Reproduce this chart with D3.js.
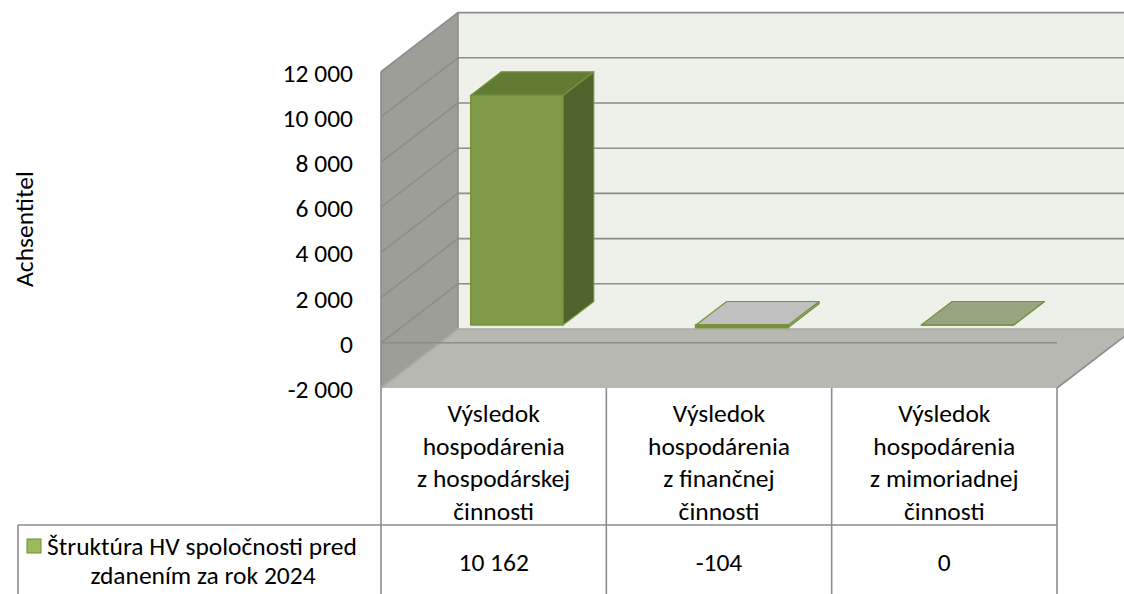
<!DOCTYPE html>
<html>
<head>
<meta charset="utf-8">
<script src="https://cdn.jsdelivr.net/npm/d3@7"></script>
<style>
  body { margin: 0; background: #fff; }
  svg { display: block; }
  text { font-family: Carlito, "Open Sans", sans-serif; fill: #000; }
</style>
</head>
<body>
<svg id="chart"></svg>
<script>
// data
var categories = [
    "Výsledok\nhospodárenia\nz hospodárskej\nčinnosti",
    "Výsledok\nhospodárenia\nz finančnej\nčinnosti",
    "Výsledok\nhospodárenia\nz mimoriadnej\nčinnosti"
];
var values = [10162, -104, 0];
var valueLabels = ["10 162", "-104", "0"];
var yTicks = [-2000, 0, 2000, 4000, 6000, 8000, 10000, 12000];
var seriesName = ["Štruktúra HV spoločnosti pred", "zdanením za rok 2024"];
var axisTitle = "Achsentitel";

var width = 1124, height = 594;
var fs = 25.5;

// 3d box: front plane and depth offset
var depthX = 77, depthY = -59;
var barDepth0 = 0.3, barDepth1 = 0.7;

var svg = d3.select("#chart").attr("width", width).attr("height", height);

var x = d3.scaleBand().domain(categories).range([381, 1057]);
var y = d3.scaleLinear().domain([-2000, 12000]).range([388, 71.6]);

var fmt = function(v) { return d3.format(",")(v).replace(/,/g, " ").replace("\u2212", "-"); };

function P(xf, v, d) {
    return [xf + d * depthX, y(v) + d * depthY];
}
var line = d3.line();
function poly(g, pts, fill, stroke, sw) {
    return g.append("path")
        .attr("d", line(pts) + "Z")
        .attr("fill", fill)
        .attr("stroke", stroke || "none")
        .attr("stroke-width", sw || 0)
        .attr("stroke-linejoin", "round");
}

var x0 = x.range()[0], x1 = x.range()[1];
var vMin = y.domain()[0], vMax = y.domain()[1];
var gridCol = "#8c8c8c";

var walls = svg.append("g");
// back wall
poly(walls, [P(x0, vMax, 1), P(x1, vMax, 1), P(x1, vMin, 1), P(x0, vMin, 1)], "#eef1e9");
// left wall
poly(walls, [P(x0, vMax, 0), P(x0, vMax, 1), P(x0, vMin, 1), P(x0, vMin, 0)], "#9d9e98");
// floor
poly(walls, [P(x0, vMin, 0), P(x0, vMin, 1), P(x1, vMin, 1), P(x1, vMin, 0)], "#b6b8b1");

// gridlines
var grid = svg.append("g").attr("stroke", gridCol).attr("stroke-width", 1.6).attr("fill", "none");
yTicks.forEach(function(t) {
    if (t > vMin) {
        grid.append("path").attr("d", line([P(x0, t, 0), P(x0, t, 1), P(x1, t, 1)]));
    }
});
grid.append("path").attr("d", line([P(x0, vMax, 0), P(x0, vMin, 0)]));
grid.append("path").attr("d", line([P(x0, vMax, 1), P(x0, vMin, 1)]));
grid.append("path").attr("d", line([P(x0, vMin, 0), P(x0, vMin, 1), P(x1, vMin, 1)]))
    .attr("stroke", "#a9aba4");
grid.append("path").attr("d", line([P(x1, vMin, 0), P(x1, vMin, 1)]));

// bars
var bw = x.bandwidth() * 0.41;
var bars = svg.append("g");
categories.forEach(function(c, i) {
    var v = values[i];
    var cx = x(c) + x.bandwidth() / 2;
    var l = cx - bw / 2, r = cx + bw / 2;
    var top = Math.max(v, 0), bot = Math.min(v, 0);
    var front, topc, side, edge = "#76923c";
    if (v > 0) { front = "#7f9a48"; topc = "#617b34"; side = "#4f632d"; }
    else if (v < 0) { front = "#c9c9c9"; topc = "#c0c0c0"; side = "#a8a8a8"; }
    else { front = "#98a37f"; topc = "#98a37f"; side = "#98a37f"; }
    var g = bars.append("g");
    poly(g, [P(r, top, barDepth0), P(r, top, barDepth1), P(r, bot, barDepth1), P(r, bot, barDepth0)], side, edge, 1.2);
    poly(g, [P(l, top, barDepth0), P(l, top, barDepth1), P(r, top, barDepth1), P(r, top, barDepth0)], topc, edge, 1.2);
    poly(g, [P(l, top, barDepth0), P(r, top, barDepth0), P(r, bot, barDepth0), P(l, bot, barDepth0)], front, edge, v < 0 ? 2.2 : 1.2);
});

// horizontal axis line at 0 on the front plane
svg.append("path")
    .attr("d", line([P(x0, 0, 0), P(x1, 0, 0)]))
    .attr("stroke", gridCol).attr("stroke-width", 1.6).attr("fill", "none");

// y labels
svg.append("g").selectAll("text").data(yTicks).enter().append("text")
    .attr("x", 353)
    .attr("y", function(d) { return y(d) + 10; })
    .attr("text-anchor", "end")
    .attr("font-size", fs)
    .text(fmt);

// axis title
svg.append("text")
    .attr("transform", "translate(33,229) rotate(-90)")
    .attr("text-anchor", "middle")
    .attr("font-size", fs)
    .text(axisTitle);

// data table
var tbl = svg.append("g").attr("stroke", "#8c8c8c").attr("stroke-width", 1.6).attr("fill", "none");
var colEdges = [x0].concat(categories.map(function(c) { return x(c) + x.bandwidth(); }));
colEdges.forEach(function(cx) {
    tbl.append("line").attr("x1", cx).attr("x2", cx).attr("y1", y(vMin)).attr("y2", height);
});
tbl.append("line").attr("x1", 18).attr("x2", x1).attr("y1", 525).attr("y2", 525);
tbl.append("line").attr("x1", 18).attr("x2", 18).attr("y1", 525).attr("y2", height);

var hdr = svg.append("g");
categories.forEach(function(c, i) {
    var cx = x(c) + x.bandwidth() / 2;
    var t = hdr.append("text").attr("text-anchor", "middle").attr("font-size", fs);
    c.split("\n").forEach(function(s, k) {
        t.append("tspan").attr("x", cx).attr("y", 422 + k * 32.5).text(s);
    });
    hdr.append("text").attr("x", cx).attr("y", 571)
        .attr("text-anchor", "middle").attr("font-size", fs)
        .text(valueLabels[i]);
});

// legend cell
svg.append("rect").attr("x", 27).attr("y", 539).attr("width", 14).attr("height", 14)
    .attr("fill", "#9bbb59").attr("stroke", "#71893f").attr("stroke-width", 1);
svg.append("text").attr("x", 47).attr("y", 555).attr("font-size", fs).text(seriesName[0]);
svg.append("text").attr("x", 203).attr("y", 584).attr("text-anchor", "middle")
    .attr("font-size", fs).text(seriesName[1]);
</script>
</body>
</html>
